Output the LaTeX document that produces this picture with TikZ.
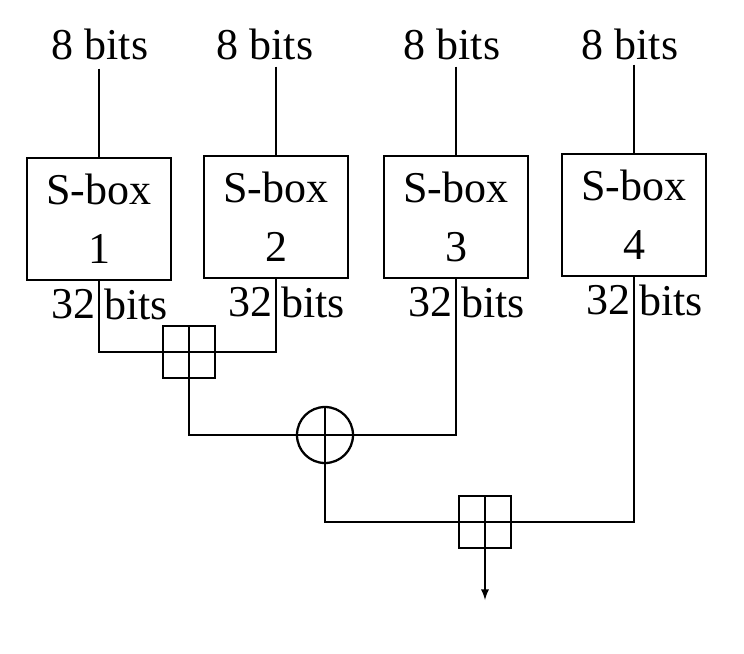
\documentclass[tikz,border=0pt]{standalone}
\usepackage{fontspec}
\setmainfont{Liberation Serif}
\usetikzlibrary{positioning}

\begin{document}
\begin{tikzpicture}[x=0.75pt, y=-0.75pt, line width=1.7pt,
    sbox/.style={rectangle, draw, minimum width=108pt, minimum height=92pt, align=center, inner sep=0pt},
    lbl/.style={font=\fontsize{33}{40}\selectfont, inner sep=0pt},
    bplus/.style={rectangle, draw, minimum size=39pt, path picture={
        \draw (path picture bounding box.north) -- (path picture bounding box.south);
        \draw (path picture bounding box.west) -- (path picture bounding box.east);}},
    oplus/.style={circle, draw, minimum size=42pt, path picture={
        \draw (path picture bounding box.north) -- (path picture bounding box.south);
        \draw (path picture bounding box.west) -- (path picture bounding box.east);}}]
    \useasboundingbox (0,0) rectangle (744,654);

    % S-boxes
    \node[sbox, lbl] (SB1) at (99,219) {S-box\\[4pt]1};
    \node[sbox, lbl] (SB2) at (276,217) {S-box\\[4pt]2};
    \node[sbox, lbl] (SB3) at (456,217) {S-box\\[4pt]3};
    \node[sbox, lbl] (SB4) at (634,215) {S-box\\[4pt]4};

    % inputs
    \node[lbl] (IN1) at (100,44) {8 bits};
    \node[lbl] (IN2) at (265,44) {8 bits};
    \node[lbl] (IN3) at (452,44) {8 bits};
    \node[lbl] (IN4) at (630,44) {8 bits};
    \draw (SB1.north) ++(0,-88) coordinate (T1) -- (SB1.north);
    \draw (SB2.north) ++(0,-88) coordinate (T2) -- (SB2.north);
    \draw (SB3.north) ++(0,-88) coordinate (T3) -- (SB3.north);
    \draw (SB4.north) ++(0,-88) coordinate (T4) -- (SB4.north);

    % outputs
    \foreach \i in {1,...,4} {
        \node[lbl, anchor=east] at ([xshift=-2pt,yshift=-17pt]SB\i.south) {32};
        \node[lbl, anchor=west] at ([xshift=3pt,yshift=-17pt]SB\i.south) {bits};
    }

    % combiners
    \node[bplus] (ADD1) at (189,352) {};
    \node[oplus] (XOR) at (325,435) {};
    \node[bplus] (ADD2) at (485,522) {};
    \coordinate (OUT) at (485,600);

    \draw (SB1.south) |- (ADD1.west);
    \draw (SB2.south) |- (ADD1.east);
    \draw (ADD1.south) |- (XOR.west);
    \draw (SB3.south) |- (XOR.east);
    \draw (XOR.south) |- (ADD2.west);
    \draw (SB4.south) |- (ADD2.east);
    \draw[-latex] (ADD2.south) -- (OUT);
\end{tikzpicture}
\end{document}
